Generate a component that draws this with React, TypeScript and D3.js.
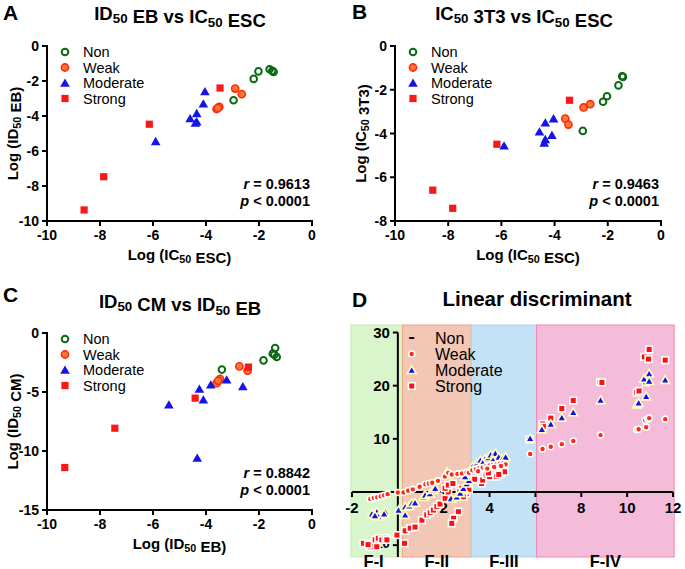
import React from "react";
import * as d3 from "d3";

// ---- Panel A: ID50 EB vs IC50 ESC ----
const nonA = [[-2.96, -3.1], [-2.2, -1.88], [-2.02, -1.45], [-1.6, -1.33], [-1.5, -1.42], [-1.45, -1.48]];
const weakA = [[-2.9, -2.43], [-2.65, -2.75], [-3.6, -3.6], [-3.5, -3.48], [-3.55, -3.55]];
const moderateA = [[-4.04, -2.6], [-4.1, -3.3], [-4.35, -3.85], [-4.6, -4.14], [-4.35, -4.33], [-4.4, -4.4], [-5.9, -5.45]];
const strongA = [[-3.47, -2.4], [-6.14, -4.47], [-7.86, -7.47], [-8.6, -9.37]];

// ---- Panel B: IC50 3T3 vs IC50 ESC ----
const nonB = [[-2.94, -3.88], [-2.18, -2.55], [-2.03, -2.3], [-1.6, -1.8], [-1.43, -1.41], [-1.46, -1.38]];
const weakB = [[-2.91, -2.81], [-2.66, -2.66], [-3.6, -3.32], [-3.48, -3.59]];
const moderateB = [[-4.04, -3.32], [-4.35, -3.51], [-4.57, -3.92], [-4.1, -4.08], [-4.35, -4.27], [-4.39, -4.43], [-5.9, -4.56]];
const strongB = [[-3.44, -2.48], [-6.17, -4.49], [-8.58, -6.59], [-7.83, -7.42]];

// ---- Panel C: ID50 CM vs ID50 EB ----
const nonC = [[-3.4, -3.1], [-1.83, -2.32], [-1.39, -1.27], [-1.48, -1.75], [-1.33, -2.04], [-1.42, -1.85]];
const weakC = [[-2.74, -2.83], [-2.43, -3.2], [-3.47, -3.9], [-3.6, -4.25], [-3.54, -4.05]];
const moderateC = [[-3.22, -3.96], [-3.82, -4.39], [-4.25, -4.75], [-4.1, -5.66], [-2.61, -4.53], [-5.4, -6.08], [-4.33, -10.6]];
const strongC = [[-2.4, -2.89], [-4.41, -5.52], [-7.44, -8.07], [-9.33, -11.4]];

// ---- Panel D: linear discriminant ----
const nonD: number[][] = [];
const weakD = [
  [-1.2, -1.3], [-1.05, -1.1], [-0.9, -1.0], [-0.75, -0.8], [-0.6, -0.6], [-0.45, -0.4], [0, -0.1],
  [0.25, -0.1], [0.45, 0.25], [0.65, 0.5], [0.95, 1.0], [1.2, 1.45], [1.35, 1.6], [1.5, 1.75], [1.75, 2.1],
  [2.05, 2.9], [2.2, 3.6], [2.35, 3.3], [2.6, 3.4], [2.8, 3.5], [3.0, 3.7], [3.1, 3.6],
  [3.25, 4.1], [3.4, 4.3], [3.55, 4.5], [3.7, 4.6], [3.85, 4.8], [4.0, 5.0], [4.15, 5.1], [4.3, 5.2],
  [4.45, 5.3], [4.6, 5.4], [4.7, 5.2], [3.5, 3.9], [3.9, 4.4], [4.2, 4.7], [4.5, 4.9],
  [5.77, 7.15], [6.31, 8.1], [6.67, 8.5], [7.15, 9.0], [7.65, 9.6], [8.84, 10.7], [10.42, 11.7],
  [10.5, 11.8], [10.83, 12.2], [10.79, 13.5], [10.9, 13.7], [10.96, 13.9], [11.66, 13.7],
];
const moderateD = [
  [-1.13, -4.1], [-0.92, -3.7], [-0.7, -4.3], [-0.55, -3.7], [-0.85, -4.6], [-1.0, -4.4], [-0.6, -4.1],
  [0.03, -3.4], [0.32, -2.75], [0.32, -4.3], [0.5, -2.6], [0.61, -2.1], [0.75, -2.0], [1.12, -0.9],
  [1.19, -0.56], [1.4, -0.3], [1.55, 0.4], [1.63, 0.7], [2.14, 3.8], [2.2, 3.3],
  [2.32, -1.2], [2.57, -0.9], [2.72, -0.2], [2.86, 0.7], [3.0, 1.6], [3.1, 2.2], [2.93, 2.9],
  [3.25, 4.75], [3.45, 5.45], [3.6, 6.0], [3.8, 6.2], [3.95, 6.5], [4.05, 7.0], [4.25, 7.3],
  [4.4, 6.6], [4.55, 6.2], [4.7, 6.6], [3.7, 5.5], [4.15, 6.0],
  [5.77, 10.1], [6.28, 11.8], [6.67, 12.8], [7.15, 14.0], [7.65, 15.0], [8.84, 17.3], [10.42, 16.5],
  [10.5, 16.8], [10.83, 18.0], [10.74, 21.3], [10.96, 22.3], [10.96, 20.9], [11.66, 21.1],
];
const strongD = [
  [-1.5, -9.65], [-1.2, -10.3], [-1.13, -9.65], [-0.99, -9.0], [-0.85, -8.7], [-0.7, -9.0],
  [-0.55, -8.7], [-0.92, -10.3], [-0.48, -9.0], [-1.3, -9.9], [-0.04, -8.1], [0.29, -9.65],
  [0.32, -7.3], [0.54, -6.8], [0.75, -6.6], [1.05, -5.3], [1.26, -4.3], [1.41, -3.9], [1.55, -3.4],
  [1.7, -2.75], [1.84, -2.26], [2.06, -1.2], [2.2, 0.0], [2.06, 0.7], [2.2, 1.3], [2.4, 1.6],
  [2.64, -3.7], [2.43, -4.95], [2.35, -5.9],
  [2.79, 0.7], [3.0, -0.25], [2.86, -0.9], [2.95, 0.3], [3.1, 0.5], [2.7, 0.0],
  [3.35, 2.4], [3.65, 1.6], [3.7, 2.25], [3.85, 3.2], [4.0, 2.9], [4.3, 2.9], [4.5, 3.5],
  [4.6, 4.1], [4.65, 3.8], [4.4, 3.3], [3.95, 3.6],
  [5.74, 9.9], [6.31, 12.8], [6.35, 12.3], [6.67, 13.9], [7.15, 15.7], [7.65, 17.2], [8.82, 20.7],
  [8.9, 20.6], [10.42, 18.7], [10.52, 19.0], [10.75, 25.4], [10.96, 26.8], [10.93, 25.0],
  [10.81, 20.6], [11.66, 24.8],
];
const bandEdges = [-2.05, 0.2, 3.2, 6.05, 12.05];
const bandLabels = ["F-I", "F-II", "F-III", "F-IV"];
const bandFills = ["#d9f5cc", "#f3c7b5", "#c4e2f5", "#f5bcd9"];
const bandStrokes = ["#c8ecb8", "#f2a47c", "#a8d4f0", "#f088b0"];

const legendNames = ["Non", "Weak", "Moderate", "Strong"];
const xTicksD = [-2, 2, 4, 6, 8, 10, 12];
const yTicksD = [-10, 10, 20, 30];

const FONT = "'Liberation Sans', Arial, sans-serif";
const tri = d3.symbol(d3.symbolTriangle, 40)();
const triD = d3.symbol(d3.symbolTriangle, 34)();

function Sub({ children }: { children: React.ReactNode }) {
  return (
    <>
      <tspan fontSize="0.72em" dy="0.25em">{children}</tspan>
      <tspan dy="-0.25em">{""}</tspan>
    </>
  );
}

function Marker({ kind, x, y }: { kind: number; x: number; y: number }) {
  if (kind === 0)
    return <circle cx={x} cy={y} r={3.3} fill="none" stroke="#0a6a12" strokeWidth={2} />;
  if (kind === 1)
    return <circle cx={x} cy={y} r={3.6} fill="#ff7a30" stroke="#ff2a10" strokeWidth={1.6} />;
  if (kind === 2) return <path d={tri!} transform={`translate(${x},${y + 1})`} fill="#1414e6" />;
  return <rect x={x - 3.6} y={y - 3.6} width={7.2} height={7.2} fill="#f81818" />;
}

type PanelProps = {
  letter: string;
  letterX: number;
  letterY: number;
  title: React.ReactNode;
  titleX: number;
  titleY: number;
  xRange: [number, number];
  yRange: [number, number];
  yDomain: [number, number];
  yStep: number;
  xLabel: React.ReactNode;
  yLabel: React.ReactNode;
  series: number[][][];
  r: string;
};

function Panel(p: PanelProps) {
  const x = d3.scaleLinear().domain([-10, 0]).range(p.xRange);
  const y = d3.scaleLinear().domain(p.yDomain).range(p.yRange);
  const yTicks = d3.range(p.yDomain[0], p.yDomain[1] + 0.001, p.yStep);
  const xTicks = d3.range(-10, 0.001, 2);
  const [x0, x1] = p.xRange;
  const [yb, yt] = p.yRange;
  const lx = x0 + 18;
  const ly = yt + 6;
  return (
    <g fontFamily={FONT}>
      <text x={p.letterX} y={p.letterY} fontSize={21} fontWeight={900}>{p.letter}</text>
      <text x={p.titleX} y={p.titleY} fontSize={18.5} fontWeight={700} textAnchor="middle">{p.title}</text>
      {/* axes */}
      <line x1={x0} x2={x0} y1={yt - 1} y2={yb + 1} stroke="#000" strokeWidth={2} />
      <line x1={x0 - 1} x2={x1 + 1} y1={yb} y2={yb} stroke="#000" strokeWidth={2} />
      {yTicks.map((t) => (
        <g key={"y" + t}>
          <line x1={x0 - 5} x2={x0} y1={y(t)} y2={y(t)} stroke="#000" strokeWidth={2} />
          <text x={x0 - 8} y={y(t) + 5} fontSize={14} fontWeight={700} textAnchor="end">{t}</text>
        </g>
      ))}
      {xTicks.map((t) => (
        <g key={"x" + t}>
          <line x1={x(t)} x2={x(t)} y1={yb} y2={yb + 5} stroke="#000" strokeWidth={2} />
          <text x={x(t)} y={yb + 19} fontSize={14} fontWeight={700} textAnchor="middle">{t}</text>
        </g>
      ))}
      <text x={(x0 + x1) / 2} y={yb + 39} fontSize={15} fontWeight={700} textAnchor="middle">{p.xLabel}</text>
      <text transform={`translate(${x0 - 29},${(yt + yb) / 2}) rotate(-90)`} fontSize={15} fontWeight={700} textAnchor="middle">{p.yLabel}</text>
      {/* legend */}
      {legendNames.map((n, i) => (
        <g key={n}>
          <Marker kind={i} x={lx} y={ly + i * 15.5} />
          <text x={lx + 18} y={ly + i * 15.5 + 5} fontSize={14.5}>{n}</text>
        </g>
      ))}
      {/* points */}
      {p.series.map((s, k) => s.map((d, j) => <Marker key={k + "-" + j} kind={k} x={x(d[0])} y={y(d[1])} />))}
      <text x={x1 - 2} y={yb - 32} fontSize={14.5} fontWeight={700} textAnchor="end">
        <tspan fontStyle="italic">r</tspan> = {p.r}
      </text>
      <text x={x1 - 2} y={yb - 15} fontSize={14.5} fontWeight={700} textAnchor="end">
        <tspan fontStyle="italic">p</tspan> &lt; 0.0001
      </text>
    </g>
  );
}

function MarkerD({ kind, x, y }: { kind: number; x: number; y: number }) {
  if (kind === 0) return <rect x={x - 2.5} y={y - 1} width={5} height={2} fill="#000" />;
  if (kind === 1)
    return <circle cx={x} cy={y} r={3} fill="#ff2a10" stroke="#ffffff" strokeWidth={1.6} />;
  if (kind === 2)
    return <path d={triD!} transform={`translate(${x},${y + 1})`} fill="#1010ee" stroke="#fffcc0" strokeWidth={1.6} />;
  return <rect x={x - 3.3} y={y - 3.3} width={6.6} height={6.6} fill="#ff1010" stroke="#ffffff" strokeWidth={1.6} />;
}

function PanelD() {
  const x = d3.scaleLinear().domain([-2, 12]).range([352, 673]);
  const y = d3.scaleLinear().domain([0, 30]).range([492, 332.5]);
  const yBottom = 557;
  const yTop = 325;
  const lx = 411.7;
  return (
    <g fontFamily={FONT}>
      <text x={352} y={307} fontSize={21} fontWeight={900}>D</text>
      <text x={537} y={306} fontSize={20.5} fontWeight={700} textAnchor="middle">Linear discriminant</text>
      {bandLabels.map((b, i) => (
        <rect key={b} x={x(bandEdges[i])} y={yTop} width={x(bandEdges[i + 1]) - x(bandEdges[i])} height={yBottom - yTop}
          fill={bandFills[i]} stroke={bandStrokes[i]} strokeWidth={1} />
      ))}
      {bandLabels.map((b, i) => (
        <text key={"l" + b} x={(x(bandEdges[i]) + x(bandEdges[i + 1])) / 2 - (i === 0 ? 3 : 0)} y={567} fontSize={16.5} fontWeight={700} textAnchor="middle">{b}</text>
      ))}
      {/* axes */}
      <line x1={x(0)} x2={x(0)} y1={y(30)} y2={yBottom} stroke="#000" strokeWidth={2} />
      <line x1={x(-2)} x2={x(12)} y1={y(0)} y2={y(0)} stroke="#000" strokeWidth={2} />
      {yTicksD.map((t) => (
        <g key={"y" + t}>
          <line x1={x(0) - 5} x2={x(0)} y1={y(t)} y2={y(t)} stroke="#000" strokeWidth={2} />
          <text x={x(0) - 8} y={y(t) + (t < 0 ? 3 : 5)} fontSize={t < 0 ? 13 : 15} fontWeight={700} textAnchor="end">{t}</text>
        </g>
      ))}
      {xTicksD.map((t) => (
        <g key={"x" + t}>
          <line x1={x(t)} x2={x(t)} y1={y(0)} y2={y(0) + 5} stroke="#000" strokeWidth={2} />
          <text x={x(t)} y={y(0) + 21} fontSize={15} fontWeight={700} textAnchor="middle">{t}</text>
        </g>
      ))}
      {/* legend */}
      {legendNames.map((n, i) => (
        <g key={n}>
          <MarkerD kind={i} x={lx} y={338 + i * 16} />
          <text x={435} y={338 + i * 16 + 5.5} fontSize={16}>{n}</text>
        </g>
      ))}
      {[strongD, moderateD, weakD, nonD].map((s, k) => {
        const kind = [3, 2, 1, 0][k];
        return s.map((d, j) => <MarkerD key={k + "-" + j} kind={kind} x={x(d[0])} y={y(d[1])} />);
      })}
    </g>
  );
}

export default function App() {
  return (
    <svg width={685} height={569} style={{ position: "absolute", left: 0, top: 0, background: "#fff" }}>
      <rect width={685} height={569} fill="#fff" />
      <Panel letter="A" letterX={3} letterY={20} titleX={180} titleY={20}
        title={<>ID<Sub>50</Sub> EB vs IC<Sub>50</Sub> ESC</>}
        xRange={[47, 312]} yRange={[221, 46]} yDomain={[-10, 0]} yStep={2}
        xLabel={<>Log (IC<Sub>50</Sub> ESC)</>} yLabel={<>Log (ID<Sub>50</Sub> EB)</>}
        series={[nonA, weakA, moderateA, strongA]} r="0.9613" />
      <Panel letter="B" letterX={352} letterY={19} titleX={524} titleY={20}
        title={<>IC<Sub>50</Sub> 3T3 vs IC<Sub>50</Sub> ESC</>}
        xRange={[395, 661]} yRange={[221, 46]} yDomain={[-8, 0]} yStep={2}
        xLabel={<>Log (IC<Sub>50</Sub> ESC)</>} yLabel={<>Log (IC<Sub>50</Sub> 3T3)</>}
        series={[nonB, weakB, moderateB, strongB]} r="0.9463" />
      <Panel letter="C" letterX={3} letterY={302} titleX={180} titleY={308}
        title={<>ID<Sub>50</Sub> CM vs ID<Sub>50</Sub> EB</>}
        xRange={[47, 312]} yRange={[510, 333]} yDomain={[-15, 0]} yStep={5}
        xLabel={<>Log (ID<Sub>50</Sub> EB)</>} yLabel={<>Log (ID<Sub>50</Sub> CM)</>}
        series={[nonC, weakC, moderateC, strongC]} r="0.8842" />
      <PanelD />
    </svg>
  );
}
